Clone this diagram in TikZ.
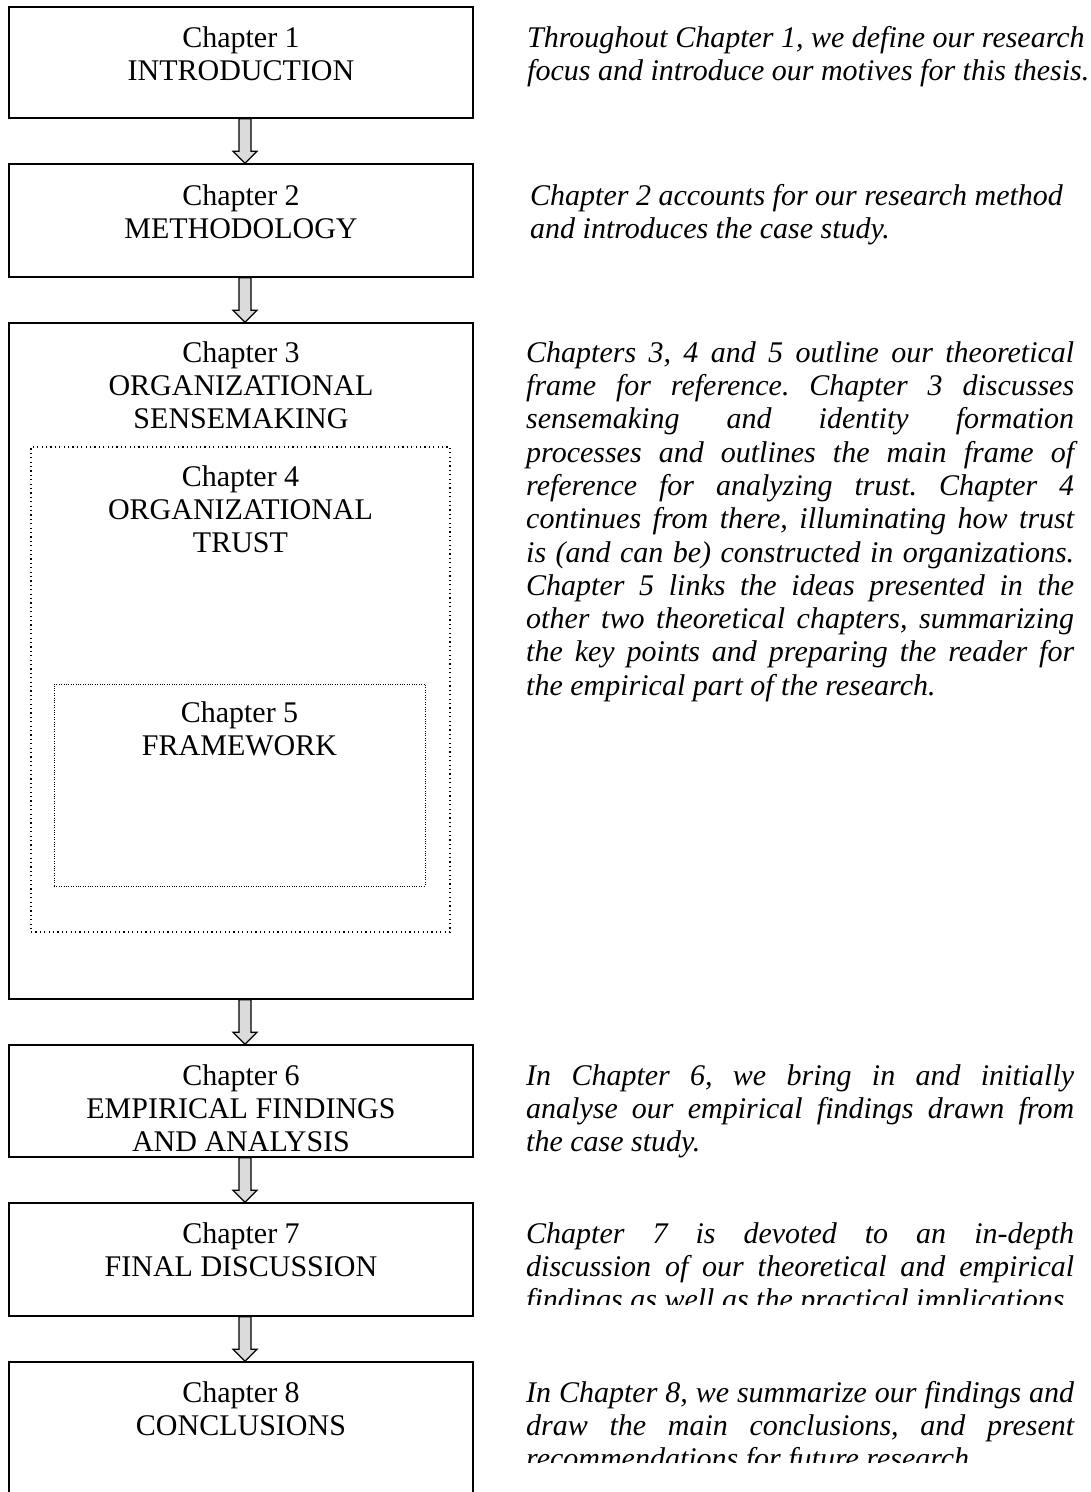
\documentclass[tikz,border=0pt]{standalone}
\usepackage{fontspec}
\setmainfont{Liberation Serif}
\usetikzlibrary{calc}
\frenchspacing
\newcommand\jline[1]{\makebox[548pt][s]{\strut #1}}
\newcommand\flowarrow[2]{%
  \draw[blockarr] ($(#1.south)+(-2,0)$) -- ($(#2.north)+(-2,-12)$) -- ($(#2.north)+(-8,-12)$)
    -- ($(#2.north)+(4,0)$) -- ($(#2.north)+(16,-12)$) -- ($(#2.north)+(10,-12)$)
    -- ($(#1.south)+(10,0)$) -- cycle;}
\tikzset{
  chbox/.style={draw, line width=1.6pt, minimum width=464pt, inner sep=0pt},
  dotbox/.style={draw, line width=1.3pt, dash pattern=on 1.2pt off 3.2pt, inner sep=0pt},
  finebox/.style={draw, line width=0.8pt, dash pattern=on 0.8pt off 1.6pt, inner sep=0pt},
  lbl/.style={font=\fontsize{30}{33.3}\selectfont, align=center, anchor=north, inner sep=0pt},
  desc/.style={font=\fontsize{30}{33.3}\selectfont\itshape\frenchspacing, align=left, anchor=north west, inner sep=0pt},
  blockarr/.style={draw, line width=1.2pt, fill=black!14, line join=miter},
}
\begin{document}
\begin{tikzpicture}[x=1pt,y=-1pt]
\useasboundingbox (0,0) rectangle (1091,1492);
% boxes
\node[chbox, minimum height=111pt] (b1) at (241,62.5) {};
\node[chbox, minimum height=113pt] (b2) at (241,220.5) {};
\node[chbox, minimum height=676pt] (b3) at (241,661) {};
\node[dotbox, minimum width=419pt, minimum height=485pt] (d4) at (240.5,689.5) {};
\node[finebox, minimum width=371pt, minimum height=202pt] (d5) at (239.5,785) {};
\node[chbox, minimum height=112pt] (b6) at (241,1101) {};
\node[chbox, minimum height=113pt] (b7) at (241,1259.5) {};
\node[chbox, minimum height=158pt] (b8) at (241,1441) {};
% labels
\node[lbl] (l1) at (241,23.7) {\strut Chapter 1\\\strut INTRODUCTION};
\node[lbl] (l2) at (241,181.7) {\strut Chapter 2\\\strut METHODOLOGY};
\node[lbl] (l3) at (241,338.7) {\strut Chapter 3\\\strut ORGANIZATIONAL\\\strut SENSEMAKING};
\node[lbl] (l4) at (240.5,462.7) {\strut Chapter 4\\\strut ORGANIZATIONAL\\\strut TRUST};
\node[lbl] (l5) at (239.5,698.7) {\strut Chapter 5\\\strut FRAMEWORK};
\node[lbl] (l6) at (241,1061.7) {\strut Chapter 6\\\strut EMPIRICAL FINDINGS\\\strut AND ANALYSIS};
\node[lbl] (l7) at (241,1219.7) {\strut Chapter 7\\\strut FINAL DISCUSSION};
\node[lbl] (l8) at (241,1378.7) {\strut Chapter 8\\\strut CONCLUSIONS};
% arrows
\flowarrow{b1}{b2}
\flowarrow{b2}{b3}
\flowarrow{b3}{b6}
\flowarrow{b6}{b7}
\flowarrow{b7}{b8}
% descriptions
\node[desc] (p1) at (527,23.7) {\strut Throughout Chapter 1, we define our research\\\strut focus and introduce our motives for this thesis.};
\node[desc] (p2) at (530,181.7) {\strut Chapter 2 accounts for our research method\\\strut and introduces the case study.};
\node[desc] (p3) at (526,338.7) {%
\jline{Chapters 3, 4 and 5 outline our theoretical}\\
\jline{frame for reference. Chapter 3 discusses}\\
\jline{sensemaking and identity formation}\\
\jline{processes and outlines the main frame of}\\
\jline{reference for analyzing trust. Chapter 4}\\
\jline{continues from there, illuminating how trust}\\
\jline{is (and can be) constructed in organizations.}\\
\jline{Chapter 5 links the ideas presented in the}\\
\jline{other two theoretical chapters, summarizing}\\
\jline{the key points and preparing the reader for}\\
\strut the empirical part of the research.};
\node[desc] (p6) at (526,1061.7) {%
\jline{In Chapter 6, we bring in and initially}\\
\jline{analyse our empirical findings drawn from}\\
\strut the case study.};
\begin{scope}
\clip (500,1190) rectangle (1091,1304);
\node[desc] (p7) at (526,1219.7) {%
\jline{Chapter 7 is devoted to an in-depth}\\
\jline{discussion of our theoretical and empirical}\\
\strut findings as well as the practical implications.};
\end{scope}
\begin{scope}
\clip (500,1350) rectangle (1091,1462.5);
\node[desc] (p8) at (526,1378.7) {%
\jline{In Chapter 8, we summarize our findings and}\\
\jline{draw the main conclusions, and present}\\
\strut recommendations for future research.};
\end{scope}
\end{tikzpicture}
\end{document}
